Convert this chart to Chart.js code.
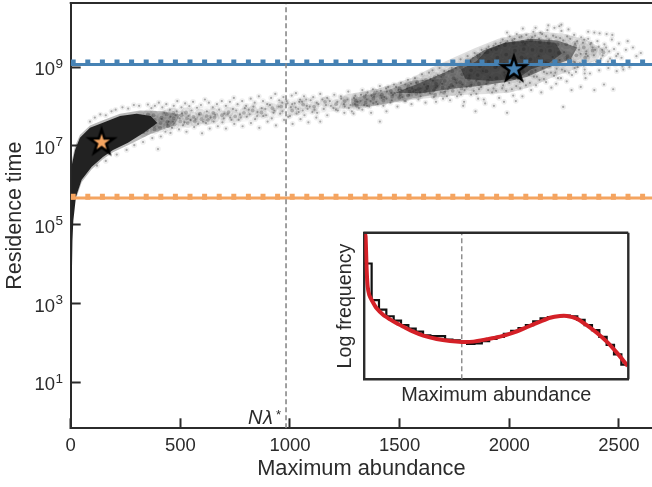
<!DOCTYPE html>
<html>
<head>
<meta charset="utf-8">
<title>Residence time vs maximum abundance</title>
<script src="https://cdn.jsdelivr.net/npm/chart.js@4/dist/chart.umd.min.js"></script>
<style>
  html, body { margin: 0; padding: 0; background: #fff; }
  #wrap { position: relative; width: 652px; height: 487px; overflow: hidden; }
  #main { position: absolute; left: 0; top: 0; }
  #inset { position: absolute; left: 330px; top: 220px; }
</style>
</head>
<body>
<div id="wrap">
  <canvas id="main" width="652" height="487"></canvas>
  <canvas id="inset" width="322" height="190"></canvas>
</div>
<script>
// ========== DATA (x = abundance, e = log10 residence time) ==========
const xTicks = [0, 500, 1000, 1500, 2000, 2500];
const yTickExps = [1, 3, 5, 7, 9];
const nLambda = 982;
const blueLevel = 9.07, blueDotted = 9.12;
const orangeLevel = 5.68, orangeDotted = 5.71;
const starOrange = [141, 7.09];
const starBlue = [2021, 8.95];

// outline of the solid black band near the origin
const bandOutline = [[0,-0.2],[1,2],[1.5,4],[2,5.5],[4.6,6.47],[20,6.9],[42,7.21],[88,7.46],[147,7.59],[225,7.76],[300,7.82],[365,7.76],[395,7.58],[335,7.34],[261,7.08],[193,6.9],[147,6.72],[96,6.47],[50,6.14],[24,5.71],[12,5.1],[8,4.6],[5,3.6],[3,2.4],[2,1],[1,-0.2]];
// softer rim round the band
const bandRim = [[4,6.6],[20,7],[42,7.28],[88,7.52],[147,7.65],[225,7.82],[316,7.9],[420,7.88],[500,7.8],[470,7.52],[362,7.3],[261,7.02],[193,6.84],[147,6.66],[96,6.41],[50,6.08],[24,5.65]];
// density contours of the trail and the far cloud
const trailArea = [[400,7.95],[600,8],[800,8.08],[1000,8.2],[1250,8.3],[1250,7.9],[1000,7.75],[800,7.62],[600,7.52],[400,7.45]];
const cloudTail = [[1280,8.2],[1450,8.42],[1560,8.66],[1700,8.7],[1650,8.3],[1500,8.14],[1380,8.02],[1280,8]];
const cloudOuter = [[1250,8.3],[1400,8.45],[1550,8.72],[1650,9],[1750,9.25],[1850,9.5],[1950,9.72],[2050,9.85],[2150,9.9],[2250,9.85],[2350,9.7],[2430,9.45],[2400,9.18],[2300,8.95],[2200,8.75],[2100,8.5],[2000,8.35],[1900,8.32],[1800,8.3],[1700,8.25],[1600,8.2],[1500,8.12],[1400,8.02],[1300,7.95],[1220,7.95]];
const cloudMiddle = [[1480,8.35],[1600,8.62],[1700,8.85],[1800,9.12],[1880,9.42],[1980,9.62],[2100,9.72],[2220,9.68],[2310,9.5],[2280,9.2],[2180,9],[2080,8.75],[1980,8.62],[1860,8.52],[1740,8.45],[1600,8.34]];
const cloudInner = [[1850,9.15],[1900,9.45],[1980,9.62],[2100,9.68],[2210,9.62],[2240,9.35],[2180,9.1],[2100,8.95],[2040,8.72],[1920,8.65],[1800,8.7],[1780,8.95]];

const midPts = [[320,7.45],[325,7.62],[318,7.75],[330,7.35],[350,7.55],[355,7.7],[348,7.4],[352,7.8],[380,7.5],[384,7.66],[378,7.78],[382,7.42],[410,7.58],[414,7.72],[408,7.46],[440,7.62],[444,7.5],[438,7.8],[470,7.7],[474,7.55],[468,7.84],[500,7.62],[505,7.78],[530,7.7],[526,7.85],[534,7.58],[560,7.74],[566,7.62],[590,7.82],[596,7.68],[620,7.76],[626,7.66],[650,7.84],[656,7.72],[690,7.78],[720,7.86],[750,7.75],[790,7.84],[830,7.9],[870,7.85],[920,7.96],[960,8],[1010,7.9],[1060,8.05],[1110,8],[1160,8.12],[1210,8.06],[1250,8.14],[1300,8.15],[1305,8.02],[1340,8.25],[1345,8.1],[1380,8.2],[1386,8.34],[1420,8.3],[1426,8.15],[1460,8.4],[1466,8.25],[1500,8.46],[1505,8.32],[1498,8.22],[1540,8.52],[1546,8.38],[1538,8.28],[1580,8.62],[1586,8.45],[1576,8.32],[1620,8.68],[1626,8.5],[1616,8.38],[1660,8.75],[1666,8.58],[1656,8.42],[1662,8.3],[1700,8.82],[1706,8.65],[1696,8.48],[1702,8.35],[1740,8.9],[1746,8.72],[1736,8.55],[1742,8.4],[1780,9],[1786,8.82],[1776,8.62],[1782,8.46],[1820,9.12],[1826,8.92],[1816,8.7],[1822,8.52],[1860,9.25],[1866,9.02],[1856,8.8],[1862,8.58],[1900,9.38],[1906,9.14],[1896,8.9],[1902,8.65],[1940,9.46],[1946,9.24],[1936,9],[1942,8.72],[1980,9.56],[1986,9.32],[1976,9.08],[1982,8.78],[2020,9.62],[2026,9.42],[2016,9.18],[2022,8.72],[2060,9.65],[2066,9.46],[2056,9.25],[2062,8.9],[2100,9.68],[2106,9.44],[2096,9.2],[2102,8.88],[2140,9.64],[2146,9.42],[2136,9.16],[2180,9.62],[2186,9.42],[2176,9.08],[2220,9.58],[2226,9.36],[2216,9.1],[2260,9.58],[2266,9.28],[2300,9.54],[2306,9.3],[2340,9.5],[2346,9.24],[2380,9.42],[2430,9.38]];

const speckPts = [
[88,7.62],[110,7.72],[135,7.8],[160,7.78],[186,7.88],[205,7.92],[236,7.98],[262,7.95],[288,8.04],[312,8.02],[120,6.5],[160,6.62],[210,6.78],[255,6.9],[290,7.02],[330,7.1],[372,7.2],[411,7.24],[455,7.33],[398,6.92],
[352,8.05],[368,7.96],[384,8.02],[402,8.1],[418,7.98],[436,8.06],[452,7.92],[470,8.02],[486,8.14],[505,7.98],[522,8.08],[541,8.01],[558,8.12],[576,7.97],[594,8.04],[612,8.18],[630,8.1],[648,7.98],[667,8.06],[689,8.14],
[708,8.02],[726,8.12],[744,8.22],[761,8.06],[782,8.14],[800,8.02],[821,8.2],[839,8.1],[858,8.26],[877,8.14],[896,8.06],[914,8.22],[933,8.32],[951,8.16],[970,8.24],[989,8.08],[1008,8.28],[1027,8.34],[1046,8.18],[1064,8.26],
[432,7.36],[448,7.62],[462,7.46],[478,7.78],[494,7.42],[512,7.52],[528,7.36],[546,7.66],[563,7.48],[581,7.56],[599,7.32],[617,7.58],[634,7.44],[652,7.62],[671,7.5],[692,7.6],[708,7.44],[727,7.72],[746,7.56],[766,7.66],
[784,7.5],[803,7.74],[822,7.58],[841,7.68],[860,7.46],[878,7.76],[898,7.62],[917,7.7],[936,7.52],[955,7.82],[973,7.66],[992,7.74],[1012,7.56],[1030,7.82],[1048,7.68],[1066,7.78],[1084,7.6],[1102,7.86],[1120,7.72],[1138,7.62],
[1010,8.06],[1026,7.98],[1042,8.12],[1058,7.9],[1074,8.18],[1090,8],[1106,8.24],[1122,8.1],[1138,8.32],[1154,7.94],[1170,8.22],[1186,8.02],[1202,8.3],[1218,7.9],[1234,8.2],[1250,8],[1266,8.38],[1282,7.88],[1298,8.28],[1314,7.96],
[700,7.82],[740,7.94],[772,7.8],[812,7.92],[850,7.76],[888,7.94],[925,7.84],[965,8.1],[1000,7.76],[1040,7.86],[1080,7.94],[1124,7.84],[1170,7.78],[1210,7.92],[1248,7.84],[1290,7.82],[1330,7.92],[1370,7.84],[1410,7.62],[1440,7.88],
[1330,8.42],[1346,8.3],[1362,8],[1378,8.44],[1394,8.12],[1410,8.52],[1426,8.02],[1442,8.38],[1458,8.1],[1474,8.56],[1490,8],[1506,8.6],[1522,8.14],[1538,8.68],[1554,8.06],[1570,8.72],[1586,8.18],[1602,8.82],[1618,8.1],[1634,8.86],
[1350,8.18],[1372,8.28],[1396,8.38],[1418,8.22],[1438,8.46],[1462,8.34],[1484,8.5],[1508,8.42],[1528,8.14],[1552,8.58],[1574,8.42],[1596,8.26],[1612,8.56],[1638,8.34],[1650,8.92],[1666,8.12],[1682,8.98],[1698,8.2],[1714,9.06],[1730,8.16],
[1746,9.12],[1762,8.26],[1778,9.2],[1794,8.12],[1810,9.28],[1826,8.3],[1842,9.36],[1858,8.2],[1874,9.44],[1890,8.08],[1906,9.52],[1922,8.36],[1938,9.6],[1954,8.22],[1970,9.7],[1986,8.4],[2002,9.78],[2018,8.28],[2034,9.84],[2050,8.46],
[1652,8.66],[1672,8.52],[1690,8.76],[1708,8.38],[1724,8.9],[1744,8.52],[1756,8.98],[1772,8.36],[1792,9.08],[1806,8.5],[1822,9.16],[1838,8.4],[1854,9.3],[1872,8.5],[1888,9.36],[1904,8.42],[1918,9.44],[1936,8.56],[1952,9.54],[1968,8.46],
[1984,9.62],[2000,8.6],[2014,9.68],[2032,8.52],[2046,9.76],[2064,8.66],[2078,9.82],[2094,8.6],[2110,9.9],[2126,8.76],[2142,9.88],[2158,8.7],[2174,9.94],[2190,8.86],[2206,10],[2222,8.72],[2238,9.92],[2254,8.9],[2270,9.96],[2286,8.8],
[2072,9.6],[2088,9.1],[2104,9.76],[2120,8.92],[2136,9.72],[2152,8.98],[2168,9.78],[2184,9.02],[2200,9.8],[2216,8.96],[2232,9.74],[2248,9.06],[2264,9.78],[2280,9.1],[2296,9.82],[2312,9],[2328,9.76],[2344,8.94],[2360,9.72],[2376,9.08],
[2100,8.42],[2122,8.54],[2146,8.36],[2168,8.62],[2192,8.48],[2214,8.58],[2236,8.72],[2246,7.99],[2262,8.64],[2284,8.42],[2304,8.88],[2326,8.5],[2348,8.72],[2368,8.84],[2388,8.42],[2410,8.92],[2432,8.56],[2452,8.98],[2474,8.44],[2490,8.9],
[2300,9.6],[2318,9.44],[2336,9.62],[2352,9.4],[2370,9.58],[2386,9.3],[2402,9.66],[2418,9.22],[2434,9.58],[2450,9.14],[2468,9.7],[2484,9.06],[2500,9.6],[2516,9.02],[2532,9.44],[2548,9],[2564,9.5],[2580,9.28],[2600,9.36],[2520,8.94],
[1990,7.84],[1930,8.02],[1846,7.88],[1790,8.02],[2060,8.26],[2030,8.14],[1976,8.12],[1884,8.18],[2412,9.86],[2444,9.84],[2388,9.88],[2470,9.82],[2360,9.9],[2178,10.06],[2120,10],[2062,9.98],[1990,9.88],[2238,10.08],[2228,10.04],[2540,9.66],
[2380,9.5],[2396,9.14],[2350,9.34],[2300,9.12],[2250,9.38],[2424,9.44],[2456,9.4],[2488,9.28],[2512,9.24],[2340,9.04],[2282,9.2],[2210,8.86],[2158,8.88],[2090,8.82],[2040,8.7],[1990,8.68],[1940,8.4],[1850,8.32],[1780,8.3],[1716,8.26],
[415,7.68],[427,7.84],[441,7.55],[455,7.74],[466,7.62],[483,7.88],[497,7.7],[508,7.83],[519,7.6],[537,7.76],[551,7.9],[569,7.68],[585,7.8],[603,7.62],[621,7.88],[638,7.72],[659,7.79],[677,7.92],[698,7.7],[716,7.8],
[733,7.66],[755,7.9],[776,7.72],[794,7.96],[816,7.8],[833,8],[852,7.86],[871,7.96],[892,7.78],[909,8.04],[929,7.9],[948,8],[966,7.88],[985,8.14],[1004,7.98],[1022,8.08],[1038,7.94],[1056,8.12],[1076,8.02],[1094,8.16],
[1112,7.92],[1130,8.06],[1148,8.18],[1164,8.04],[1182,8.14],[1198,7.96],[1216,8.12],[1232,8.26],[1246,8.06],[1262,8.18],[1276,8.04],[1292,8.22],[1308,8.12],[1324,8.3],[1338,8.04],[1354,8.36],[1368,8.14],[1384,8.26],[1400,8.06],[1414,8.4],
[1430,8.24],[1448,8.5],[1464,8.16],[1478,8.34],[1494,8.42],[1512,8.24],[1526,8.56],[1544,8.3],[1558,8.46],[1576,8.6],[1592,8.36],[1606,8.66],[1624,8.44],[1640,8.7],[1656,8.24],[1674,8.8],[1688,8.36],[1704,8.9],[1720,8.44],[1738,8.98],
[1754,8.68],[1770,9.08],[1786,8.56],[1802,9.16],[1818,8.78],[1834,9.24],[1850,8.66],[1866,9.32],[1880,8.9],[1896,9.46],[1912,8.74],[1928,9.54],[1944,9.02],[1960,9.62],[1978,8.86],[1992,9.66],[2010,9.1],[2024,9.72],[2042,8.88],[2056,9.78],
[2070,9.2],[2086,9.7],[2102,9.04],[2118,9.8],[2134,9.28],[2150,9.84],[2166,9.12],[2182,9.7],[2198,9.26],[2214,9.76],[2230,9.18],[2246,9.68],[2262,9.22],[2278,9.72],[2294,9.14],[2310,9.66],[2326,9.34],[2342,9.7],[2358,9.28],[2374,9.62],
[2392,9.44],[2408,9.52],[2426,9.3],[2442,9.5],[2460,9.22],[2478,9.46],[2496,9.34],[2344,8.84],[2322,9.1],[2298,8.98],[2272,8.86],[2240,8.94],[2204,8.78],[2172,8.84],[2138,8.68],[2112,8.76],[2076,8.54],[2048,8.62],[2012,8.44],[1972,8.54],[1928,8.46],[1896,8.58],
[1862,8.44],[1828,8.56],[1796,8.42],[1760,8.6],[1726,8.5],[1694,8.58],[1664,8.48],[1630,8.52],[1596,8.46],[1562,8.38],[1534,8.46],[1500,8.28],[1470,8.3],[1440,8.2],[1412,8.28],[1380,8.08],[1352,8.02],[1322,8.14],[1296,8.06],[1268,7.96]
];

// inset: histogram bin edges with heights, then the fitted curve
const histEdges = [0,74,148,222,296,370,444,518,592,666,740,814,888,962,1036,1110,1184,1258,1332,1406,1480,1554,1628,1702,1776,1850,1924,1998,2072,2146,2220,2294,2368,2442,2516,2590,2660];
const histHeights = [79,54,47.5,43,40,37,34.5,32.5,30,29.5,29.5,27,26.5,25.5,24.1,24.5,26,27.5,29,31,33,35,37,39.5,41.5,42.5,43,43.5,43,40.5,37,33.5,29,23.5,17,10,10];
const fitX = [5,13,24,34,50,74,124,192,259,326,393,494,595,729,864,981,1099,1233,1368,1502,1636,1771,1872,1972,2040,2140,2241,2342,2443,2544,2654];
const fitY = [100,97.3,74.5,63.2,57.5,54.1,48.4,43.9,40.9,38.2,35.9,32.5,29.8,27.5,26.1,25.5,25.7,27.3,29.1,31.8,35.5,39.3,42,43.2,43.2,41.4,37,31.8,25.7,18.2,9.1];

// ========== HELPERS ==========
const INK = '#2b2b2b', FONT = '"Liberation Sans", Arial, sans-serif';
const BLUE = '#4682b4', ORANGE = '#f4a460';
const X_MAX = 2651, E_MIN = -0.17, E_MAX = 10.63;
const toPts = list => list.map(p => ({ x: p[0], y: Math.pow(10, p[1]) }));
const hLine = e => toPts([[0, e], [X_MAX, e]]);

function starIcon(fill) {
  const c = document.createElement('canvas');
  c.width = c.height = 36;
  const g = c.getContext('2d');
  g.beginPath();
  for (let i = 0; i < 10; i++) {
    const r = i % 2 ? 4.9 : 12.8, a = -Math.PI / 2 + i * Math.PI / 5;
    g.lineTo(18 + r * Math.cos(a), 18 + r * Math.sin(a));
  }
  g.closePath();
  g.fillStyle = fill; g.fill();
  g.lineWidth = 2.6; g.strokeStyle = '#000'; g.miterLimit = 10; g.stroke();
  return c;
}

const cloud = (data, r, alpha, order) => ({ type: 'scatter', data: toPts(data), pointRadius: r, pointBorderWidth: 0, pointBackgroundColor: `rgba(25,25,25,${alpha})`, showLine: false, order });
const polygon = (data, color, order) => ({ type: 'scatter', data: toPts(data), showLine: true, fill: 'shape', borderWidth: 0, backgroundColor: color, pointRadius: 0, tension: 0, order });
const rule = (data, color, width, dash, order) => ({ type: 'scatter', data, showLine: true, borderColor: color, borderWidth: width, borderDash: dash, pointRadius: 0, tension: 0, order });
const star = (p, fill, order) => ({ type: 'scatter', data: toPts([p]), pointStyle: starIcon(fill), pointRadius: 18, order });
// no label overhang: the plot area has to keep the size of the reference
const noOverhang = s => { s.paddingLeft = s.paddingRight = s.paddingTop = s.paddingBottom = 0; };

// top and right spines are not real axes here, so draw them from the chart area
const spines = (sides, width) => ({
  id: 'spines',
  afterDatasetsDraw(chart) {
    const { ctx, chartArea: a } = chart;
    ctx.save(); ctx.strokeStyle = INK; ctx.lineWidth = width;
    ctx.beginPath();
    if (sides.includes('top')) { ctx.moveTo(a.left - 1, a.top); ctx.lineTo(a.right, a.top); }
    if (sides.includes('right')) { ctx.moveTo(a.right, a.top); ctx.lineTo(a.right, a.bottom); }
    ctx.stroke(); ctx.restore();
  }
});

// tick labels only give "10", the exponent is set next to them
const exponents = {
  id: 'exponents',
  afterDraw(chart) {
    const { ctx, scales } = chart;
    ctx.save(); ctx.fillStyle = INK; ctx.textBaseline = 'alphabetic'; ctx.textAlign = 'left';
    ctx.font = `13.5px ${FONT}`;
    yTickExps.forEach(e => ctx.fillText(String(e), 55.5, scales.y.getPixelForValue(Math.pow(10, e)) + 0.5));
    ctx.restore();
  }
};

const nLambdaLabel = {
  id: 'nLambdaLabel',
  afterDraw(chart) {
    const { ctx, scales } = chart;
    const right = scales.x.getPixelForValue(nLambda) - 3, y = scales.y.bottom - 4;
    ctx.save(); ctx.fillStyle = INK; ctx.textBaseline = 'alphabetic'; ctx.textAlign = 'left';
    ctx.font = `italic 20px ${FONT}`;
    ctx.fillText('N', right - 35, y);
    ctx.font = `italic 18px "DejaVu Sans"`;
    ctx.fillText('λ', right - 20, y);
    ctx.font = `13px ${FONT}`;
    ctx.fillText('*', right - 7, y - 5);
    ctx.restore();
  }
};

// ========== MAIN CHART ==========
new Chart(document.getElementById('main'), {
  type: 'scatter',
  data: { datasets: [
    star(starBlue, BLUE, 0),
    star(starOrange, ORANGE, 0),
    rule(toPts([[nLambda, E_MIN], [nLambda, E_MAX]]), '#888888', 1.6, [5, 3], 1),
    rule(hLine(blueDotted), BLUE, 6, [5, 9.6], 2),
    rule(hLine(blueLevel), BLUE, 3, [], 2),
    rule(hLine(orangeDotted), ORANGE, 6, [5, 9.6], 2),
    rule(hLine(orangeLevel), ORANGE, 3, [], 2),
    polygon(bandOutline, '#222222', 3),
    cloud(speckPts, 1.1, 0.34, 4),
    cloud(midPts, 1.9, 0.26, 5),
    cloud(midPts, 5, 0.09, 6),
    cloud(speckPts, 2.8, 0.07, 7),
    polygon(cloudInner, 'rgba(25,25,25,0.5)', 8),
    polygon(cloudMiddle, 'rgba(25,25,25,0.5)', 9),
    polygon(cloudTail, 'rgba(25,25,25,0.22)', 10),
    polygon(cloudOuter, 'rgba(25,25,25,0.14)', 11),
    polygon(trailArea, 'rgba(25,25,25,0.04)', 12),
    polygon(bandRim, 'rgba(25,25,25,0.3)', 13)
  ]},
  options: {
    responsive: false, animation: false, events: [],
    layout: { autoPadding: false, padding: { top: 3, right: 0, left: 0, bottom: 0 } },
    plugins: { legend: { display: false }, tooltip: { enabled: false } },
    scales: {
      x: {
        type: 'linear', min: 0, max: X_MAX,
        afterBuildTicks: s => { s.ticks = xTicks.map(v => ({ value: v })); },
        afterFit: s => { s.height = 58.7; noOverhang(s); },
        border: { color: INK, width: 2 },
        grid: { drawOnChartArea: false, tickLength: -10, tickWidth: 2, tickColor: INK },
        ticks: { color: INK, padding: 17, maxRotation: 0, autoSkip: false, font: { family: FONT, size: 18.5 }, callback: v => String(v) },
        title: { display: true, text: 'Maximum abundance', color: INK, font: { family: FONT, size: 21.8 }, padding: { top: 0, bottom: 5 } }
      },
      y: {
        type: 'logarithmic', min: Math.pow(10, E_MIN), max: Math.pow(10, E_MAX),
        afterBuildTicks: s => { s.ticks = yTickExps.map(e => ({ value: Math.pow(10, e) })); },
        afterFit: s => { s.width = 70.7; noOverhang(s); },
        border: { color: INK, width: 2 },
        grid: { drawOnChartArea: false, tickLength: -10, tickWidth: 2, tickColor: INK },
        ticks: { color: INK, padding: 25.7, labelOffset: 3, autoSkip: false, font: { family: FONT, size: 18.5 }, callback: () => '10' },
        title: { display: true, text: 'Residence time', color: INK, font: { family: FONT, size: 21.5 }, padding: { top: 2, bottom: 0 } }
      }
    }
  },
  plugins: [spines(['top'], 2), exponents, nLambdaLabel]
});

// ========== INSET ==========
new Chart(document.getElementById('inset'), {
  type: 'scatter',
  data: { datasets: [
    { data: fitX.map((x, i) => ({ x, y: fitY[i] })), showLine: true, borderColor: '#d42027', borderWidth: 4, pointRadius: 0, tension: 0.2, order: 0 },
    { data: [{ x: nLambda, y: 0 }, { x: nLambda, y: 100 }], showLine: true, borderColor: '#888888', borderWidth: 1.4, borderDash: [5, 3], pointRadius: 0, order: 2 },
    { data: histEdges.map((x, i) => ({ x, y: histHeights[i] })), showLine: true, stepped: 'before', borderColor: '#111111', borderWidth: 2.2, pointRadius: 0, order: 1 }
  ]},
  options: {
    responsive: false, animation: false, events: [],
    layout: { autoPadding: false, padding: { top: 12.7, right: 23.7, left: 0, bottom: 0 } },
    plugins: { legend: { display: false }, tooltip: { enabled: false } },
    scales: {
      x: {
        type: 'linear', min: 0, max: 2660,
        afterFit: s => { s.height = 30.7; noOverhang(s); },
        border: { color: INK, width: 2.4 },
        grid: { display: false }, ticks: { display: false },
        title: { display: true, text: 'Maximum abundance', color: INK, font: { family: FONT, size: 19.9 }, padding: { top: 0, bottom: 3 } }
      },
      y: {
        type: 'linear', min: 0, max: 100,
        afterFit: s => { s.width = 34.3; noOverhang(s); },
        border: { color: INK, width: 2.4 },
        grid: { display: false }, ticks: { display: false },
        title: { display: true, text: 'Log frequency', color: INK, font: { family: FONT, size: 19.7 }, padding: { top: 4, bottom: 0 } }
      }
    }
  },
  plugins: [spines(['top', 'right'], 2.4)]
});
</script>
</body>
</html>
